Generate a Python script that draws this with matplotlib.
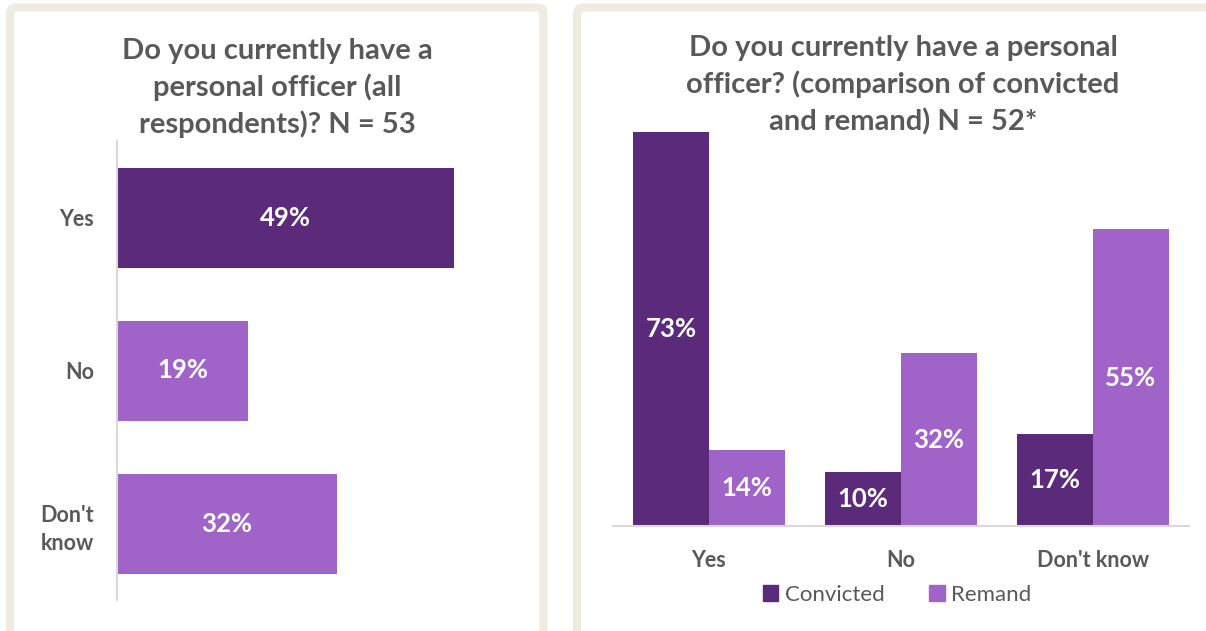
import matplotlib
matplotlib.use("Agg")
import matplotlib.pyplot as plt
from matplotlib.patches import FancyBboxPatch, Patch

plt.rcParams['font.family'] = ['Lato', 'DejaVu Sans']

# ---- data ----
all_categories = ["Yes", "No", "Don't\nknow"]
all_values = [49, 19, 32]

group_categories = ["Yes", "No", "Don't know"]
convicted = [73, 10, 17]
remand = [14, 32, 55]

title_left = "Do you currently have a\npersonal officer (all\nrespondents)? N = 53"
title_right = "Do you currently have a personal\nofficer? (comparison of convicted\nand remand) N = 52*"

DARK = "#5C2A7A"
LIGHT = "#A064C9"
GREY = "#595959"
FRAME = "#EEEBE0"

W, H = 1206, 631
fig = plt.figure(figsize=(W / 100, H / 100), dpi=100)


def px_axes(x0, y0, x1, y1):
    return fig.add_axes([x0 / W, 1 - y1 / H, (x1 - x0) / W, (y1 - y0) / H])


# panel frames (drawn in inches so corners stay round)
for (x0, y0, x1, y1) in [(10, 7.5, 543.5, 660), (577, 7.5, 1240, 660)]:
    box = FancyBboxPatch((x0 / 100, (H - y1) / 100), (x1 - x0) / 100, (y1 - y0) / 100,
                         boxstyle="round,pad=0,rounding_size=0.06",
                         transform=fig.dpi_scale_trans, facecolor="white",
                         edgecolor=FRAME, linewidth=5.8, zorder=-5)
    fig.patches.append(box)

# ---- left: horizontal bars ----
axL = px_axes(117, 141, 530, 600)
axL.set_facecolor("none")
ypos = list(range(len(all_categories)))
colors_left = [DARK, LIGHT, LIGHT]
bars = axL.barh(ypos, all_values, height=100 / 153, color=colors_left)
for b, v in zip(bars, all_values):
    axL.text(b.get_width() / 2, b.get_y() + b.get_height() / 2, f"{v}%",
             ha="center", va="center", color="white", fontsize=18.5, fontweight="bold")
axL.set_xlim(0, 60)
axL.set_ylim(2.5, -0.5)
axL.set_yticks(ypos)
axL.set_yticklabels(all_categories, fontsize=15.5, fontweight="bold", color=GREY,
                    linespacing=1.45, multialignment="center")
axL.tick_params(axis="y", length=0, pad=16.5)
axL.set_xticks([])
for s in ["top", "right", "bottom"]:
    axL.spines[s].set_visible(False)
axL.spines["left"].set_color("#D9D9D9")
axL.spines["left"].set_linewidth(1.5)
fig.text(277 / W, 1 - 88 / H, title_left, ha="center", va="center", fontsize=21,
         fontweight="bold", color=GREY, linespacing=1.43)

# ---- right: grouped columns ----
axR = px_axes(613, 94, 1189, 526)
axR.set_facecolor("none")
xs = list(range(len(group_categories)))
bw = 76 / 192
b1 = axR.bar([x - bw / 2 for x in xs], convicted, width=bw, color=DARK, label="Convicted")
b2 = axR.bar([x + bw / 2 for x in xs], remand, width=bw, color=LIGHT, label="Remand")
for bars_, vals in [(b1, convicted), (b2, remand)]:
    for b, v in zip(bars_, vals):
        axR.text(b.get_x() + b.get_width() / 2, v / 2, f"{v}%", ha="center", va="center",
                 color="white", fontsize=18.5, fontweight="bold")
axR.set_xlim(-0.5, 2.5)
axR.set_ylim(0, 80)
axR.set_xticks(xs)
axR.set_xticklabels(group_categories, fontsize=15.5, fontweight="bold", color=GREY)
axR.tick_params(axis="x", length=0, pad=17)
axR.set_yticks([])
for s in ["top", "right", "left"]:
    axR.spines[s].set_visible(False)
axR.spines["bottom"].set_color("#D9D9D9")
axR.spines["bottom"].set_linewidth(1.5)
fig.text(903 / W, 1 - 85 / H, title_right, ha="center", va="center", fontsize=21,
         fontweight="bold", color=GREY, linespacing=1.43)

handles = [Patch(color=DARK, label="Convicted"), Patch(color=LIGHT, label="Remand")]
fig.legend(handles=handles, loc="center", bbox_to_anchor=(897 / W, 1 - 595 / H), ncol=2,
           frameon=False, fontsize=16, labelcolor=GREY, handlelength=0.7,
           handleheight=0.7, handletextpad=0.3, columnspacing=2.0)

fig.savefig("out.png", dpi=100)
